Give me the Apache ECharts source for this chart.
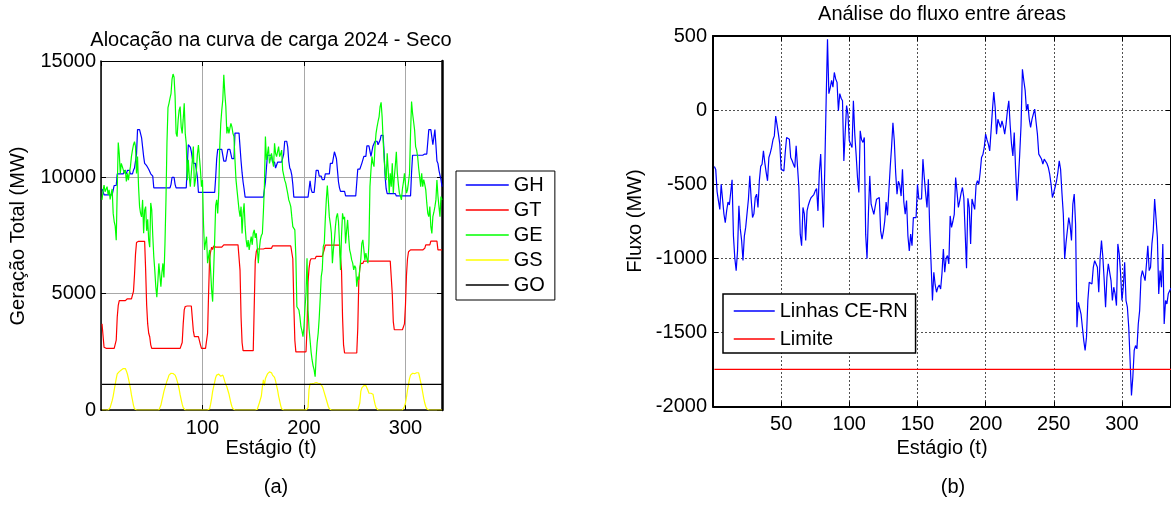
<!DOCTYPE html>
<html>
<head>
<meta charset="utf-8">
<script src="https://cdn.jsdelivr.net/npm/echarts@6/dist/echarts.min.js"></script>
<style>
html,body{margin:0;padding:0;background:#fff;}
#c{width:1171px;height:521px;}
</style>
</head>
<body>
<div id="c"></div>
<script>
// ---------------- DATA ----------------
const titleA = 'Alocação na curva de carga 2024 - Seco';
const titleB = 'Análise do fluxo entre áreas';
const xNameA = 'Estágio (t)';
const yNameA = 'Geração Total (MW)';
const xNameB = 'Estágio (t)';
const yNameB = 'Fluxo (MW)';
const seriesNamesA = ['GH', 'GT', 'GE', 'GS', 'GO'];
const seriesNamesB = ['Linhas CE-RN', 'Limite'];
const lastStage = 336;

// Hydro generation (GH), stages 1..336
const GH = [
9500,9400,9250,9250,9250,9250,9250,9250,9250,9250,
9250,9250,9650,9650,9650,10150,10150,10150,10150,10150,
10150,10150,10300,10300,10150,10300,10300,10300,10150,10150,
10150,10300,10400,10400,11000,12050,12050,12050,12050,11700,
11300,10900,10600,10600,10500,10500,10350,10350,10150,10150,
10050,9550,9550,9550,9550,9550,9550,9550,9550,9550,
9550,9550,9550,9550,9550,9550,9550,9550,9700,10000,
10000,10000,9700,9550,9550,9550,9550,9550,9550,9550,
9550,9550,9550,9550,10500,11400,11400,11300,11100,10800,
10600,10600,10600,10600,10000,9350,9350,9350,9350,9350,
9350,9350,9350,9350,9350,9350,9350,9350,9350,9350,
9350,9350,10000,10800,11200,11200,11200,11200,11200,11200,
10700,10700,10700,10700,11200,11200,11200,11200,10800,10800,
10800,11900,11900,11900,11900,11900,11300,10700,10200,9800,
9500,9150,9150,9150,9150,9150,9150,9150,9150,9150,
9150,9150,9150,9150,9150,9150,9150,9150,9150,9150,
9150,9800,10400,10950,10950,10950,10950,10950,10650,10650,
10650,10400,10400,10650,10650,10650,10650,10650,10650,11000,
11550,11550,11550,11300,10700,10400,10300,10100,9700,9150,
9150,9150,9150,9150,9150,9150,9150,9150,9150,9150,
9150,9150,9150,9150,9500,9850,9500,9350,9350,9350,
9800,10300,10300,10300,10050,10050,10050,9900,9900,9900,
10150,10150,10150,10150,10150,10600,10600,10600,10600,11100,
11100,10800,10300,9800,9550,9400,9400,9400,9400,9400,
9200,9200,9200,9200,9200,9200,9200,9200,9200,9200,
9200,9200,10350,10350,10350,10350,10600,10600,10900,10900,
10900,11350,11350,11350,11350,10900,10900,11350,11350,11550,
11550,11550,11400,11400,11600,11800,11800,11800,11000,10000,
9500,9300,9300,9300,9300,9300,9300,9300,9300,9300,
9200,9200,9200,9200,9200,9200,9200,9200,9200,9200,
9200,9200,9200,9200,9200,10200,10950,10950,10950,10950,
10950,10950,10950,10950,10950,10950,10950,10950,11000,11000,
11000,11000,12050,12050,12050,12050,11400,11400,12050,11400,
10700,10600,10300,10100,9900,9600
];

// Thermal generation (GT)
const GT = [
3700,3200,2700,2650,2650,2650,2650,2650,2650,2650,
2650,2650,2650,2650,3000,4000,4500,4700,4700,4700,
4700,4700,4700,4700,4780,4780,4780,4780,4780,4780,
4850,5100,5800,6700,7200,7250,7250,7250,7250,7250,
7250,7250,7250,6000,4500,3700,3300,3150,2800,2650,
2650,2650,2650,2650,2650,2650,2650,2650,2650,2650,
2650,2650,2650,2650,2650,2650,2650,2650,2650,2650,
2650,2650,2650,2650,2650,2650,2650,2650,2650,2900,
3700,4300,4450,4470,4470,4470,4470,4470,4470,4470,
3400,3150,3150,3150,3150,3150,3150,2800,2650,2650,
2650,2650,2650,2650,3300,5000,6500,6800,7000,6900,
7050,7000,7000,7000,7000,7000,7000,7000,7000,7000,
7100,7100,7100,7100,7100,7100,7100,7100,7100,7100,
7100,7100,7100,7100,7100,7100,6000,4000,2900,2550,
2550,2550,2550,2550,2550,2550,2550,2550,2550,2550,
4500,6400,6800,6920,6920,6920,6920,6920,6920,6920,
6950,6950,6950,6950,6950,6950,6950,6950,7050,7050,
7050,7050,7050,7050,7050,7050,7050,7050,7050,7050,
7050,7050,7050,7050,7050,7050,7050,7050,6500,4500,
3000,2500,2500,2500,2500,2500,2500,2500,2500,2500,
2500,2500,3500,5500,6100,6400,6500,6500,6500,6500,
6500,6600,6600,6600,6600,6600,6600,6600,6600,6900,
7090,7090,7090,7090,7090,7090,7090,7090,7090,7090,
7090,7090,7090,7090,7090,7090,6000,4000,2800,2450,
2450,2450,2450,2450,2450,2450,2450,2450,2450,2450,
2450,2450,3500,5500,6100,6300,6300,6300,6400,6400,
6400,6400,6400,6400,6400,6400,6400,6400,6400,6400,
6400,6400,6400,6400,6400,6400,6400,6400,6400,6400,
6400,6400,6400,6400,6400,6400,5000,3800,3450,3450,
3450,3450,3450,3450,3450,3450,3450,3500,3700,4500,
5800,6500,6800,6880,6880,6880,6880,6880,6880,6880,
6880,6880,6880,6880,6880,6880,6880,6880,6950,7100,
7100,7100,7100,7100,7260,7260,7260,7260,7260,7260,
7260,6880,6880,6880,6880,6880
];

// Wind generation (GE)
const GE = [
9030,9400,9670,9380,9450,9600,9250,9460,9050,9300,
9500,8450,8100,7900,7300,9500,11500,11000,10170,10600,
10460,10530,10170,10320,9820,10170,9880,10200,10460,10900,
11170,11400,11530,11320,10170,10890,9600,8740,8450,8300,
9030,7600,8590,8740,7700,8200,7300,7000,8900,8600,
7500,6600,6000,5300,4850,5500,6300,5800,5300,5900,
6300,5700,7100,9000,11500,13000,13180,13400,13600,14220,
14440,14300,13480,11890,11750,12460,12890,13040,12170,11890,
12500,13180,11890,11460,9880,10750,10020,9600,10200,10750,
11320,9600,9880,10300,11000,11390,11460,10310,9600,9880,
8000,6880,7200,7450,6310,6600,6880,6000,5160,4660,
6000,7310,8800,9030,8450,9320,11320,12300,12890,13330,
14410,13620,13040,11890,12170,11890,12100,12320,12170,11890,
11750,10750,9900,9460,9030,8600,8310,8740,7590,8450,
8880,7880,7310,7000,7300,6880,7200,7450,7100,7600,
7740,7400,7600,7000,6310,6900,7310,7500,7590,8500,
9600,11750,10750,11000,11320,10600,10800,11030,10700,10460,
11460,11030,10890,11100,11320,10890,11000,11170,10310,10100,
9880,9750,9670,9300,9030,8900,8740,8300,7880,7800,
7740,6600,4440,4430,4300,4000,3580,3400,3150,3580,
4400,5000,6520,4300,3500,3010,2500,2150,1900,1720,
1430,2290,2900,3300,3940,4800,5730,6020,7020,7160,
8200,9030,9650,9000,8300,8000,7600,6310,6900,7310,
7900,8300,8450,8100,7200,6020,7500,8450,8200,8300,
7160,7700,8170,7450,6880,6700,6450,6310,6020,6200,
6100,5300,5730,5600,5590,6500,7160,7310,6900,6450,
6740,6500,6310,7160,9600,10310,10890,10600,10460,11320,
11890,12170,12400,12600,13040,13220,12600,11600,10750,10170,
9880,11030,10310,9320,10170,9600,10600,9320,10000,10500,
11100,10170,9700,9320,9200,9030,9500,9800,10170,9700,
9320,9460,9800,10170,11890,13260,12750,12400,12030,11320,
11170,10890,10400,10020,9600,10170,9600,9900,9700,9460,
8900,8450,8310,8740,7880,7590,8310,8500,8740,9030,
9880,9200,8740,8310,9170,9030
];

// Solar generation (GS)
const GS = [
0,0,0,0,0,0,0,0,100,250,
400,600,850,1100,1350,1550,1600,1650,1680,1720,
1750,1780,1820,1780,1680,1550,1360,1150,930,650,
430,200,50,0,0,0,0,0,0,0,
0,0,0,0,0,0,0,0,0,0,
0,0,0,0,0,0,0,50,200,400,
600,800,950,1100,1250,1360,1500,1560,1580,1580,
1570,1540,1500,1400,1250,1100,900,650,450,250,
100,20,0,0,0,0,0,0,0,0,
0,0,0,0,0,0,0,0,0,0,
0,0,0,0,0,0,50,250,500,800,
1000,1200,1400,1500,1550,1540,1480,1450,1500,1500,
1380,1220,1100,1000,850,700,500,300,150,50,
0,0,0,0,0,0,0,0,0,0,
0,0,0,0,0,0,0,0,0,0,
0,0,0,30,100,300,450,600,1000,1300,
1050,1350,1400,1550,1600,1640,1650,1600,1500,1450,
1400,1250,1050,850,600,400,200,50,0,0,
0,0,0,0,0,0,0,0,0,0,
0,0,0,0,0,0,0,0,0,0,
0,0,0,100,900,1120,1140,1130,1150,1150,
1170,1180,1160,1150,1140,1130,1100,1020,900,750,
600,450,300,150,50,0,0,0,0,0,
0,0,0,0,0,0,0,0,0,0,
0,0,0,0,0,0,0,0,0,0,
0,0,0,0,300,800,950,1000,1050,1080,
1050,950,850,720,720,720,700,680,450,250,
100,20,0,0,0,0,0,0,0,0,
0,0,0,0,0,0,0,0,0,0,
0,0,0,0,0,0,0,50,150,300,
550,850,1100,1350,1500,1550,1580,1560,1560,1560,
1600,1640,1600,1400,1200,1000,750,500,300,150,
50,0,0,0,0,0,0,0,0,0,
0,0,0,0,0,0
];

// Other generation (GO): constant level
const GO_level = 1100;

// Flow on lines CE-RN
const FLUXO = [
-380,-400,-550,-612,-670,-500,-510,-700,-760,-680,
-620,-640,-650,-470,-850,-1000,-1083,-950,-646,-800,
-880,-1015,-850,-790,-780,-600,-444,-600,-725,-700,
-590,-567,-657,-477,-380,-365,-275,-354,-420,-477,
-320,-290,-252,-200,-174,-40,-100,-162,-230,-400,
-405,-410,-286,-185,-190,-196,-320,-340,-365,-387,
-241,-252,-522,-837,-915,-657,-700,-880,-680,-640,
-612,-590,-600,-570,-545,-530,-680,-420,-297,-286,
-792,-400,62,478,111,150,200,155,254,210,
187,-4,111,80,63,-343,-150,30,-27,-207,
-230,-252,63,-162,-300,-455,-556,-140,-200,-218,
-185,-837,-1002,-703,-444,-635,-670,-703,-650,-601,
-590,-590,-815,-870,-820,-748,-620,-710,-720,-387,
-250,-85,-207,-421,-567,-480,-505,-580,-400,-620,
-703,-610,-850,-950,-837,-915,-725,-725,-725,-500,
-600,-610,-600,-331,-455,-560,-657,-466,-800,-1038,
-1285,-1094,-1180,-1229,-1195,-1180,-1207,-1100,-937,-1094,
-1000,-982,-1038,-714,-792,-750,-703,-455,-550,-657,
-612,-560,-522,-590,-600,-1067,-595,-660,-903,-600,
-600,-670,-505,-477,-500,-420,-320,-300,-252,-162,
-200,-230,-275,-140,0,122,18,-162,-62,-90,
-117,-73,-110,-162,-95,-4,63,-100,-230,-309,
-151,-400,-612,-477,-300,-100,275,200,133,-4,
40,-60,-117,-62,-27,7,-80,-162,-297,-309,
-330,-365,-331,-343,-360,-387,-432,-500,-590,-556,
-545,-480,-421,-343,-400,-560,-703,-1004,-893,-900,
-725,-780,-880,-634,-567,-770,-1465,-1297,-1308,-1376,
-1386,-1555,-1622,-1532,-1285,-1162,-1162,-1173,-1061,-1016,
-1038,-1060,-1229,-1000,-880,-992,-1150,-1330,-1128,-1038,
-1049,-1150,-1285,-1195,-1240,-1319,-903,-970,-1100,-1285,
-1195,-1027,-1285,-1330,-1465,-1690,-1925,-1802,-1622,-1589,
-1611,-1443,-1353,-1128,-1083,-1083,-1151,-1038,-915,-1083,
-1060,-903,-813,-600,-729,-858,-1240,-1083,-1195,-903,
-1443,-1285,-1308,-1240,-1240,-1200
];

const LIMITE = -1750;

// Axis ticks
const xTickStepA = 100, yTickStepA = 5000, yMinA = 0, yMaxA = 15000;
const xTickStepB = 50, yTickStepB = 500, yMinB = -2000, yMaxB = 500;

// --------------- CHART ----------------
const FONT = "'Liberation Sans', Arial, Helvetica, sans-serif";
const pairs = arr => arr.map((v, i) => [i + 1, v]);
const flat = (lvl) => [[1, lvl], [lastStage, lvl]];

const chart = echarts.init(document.getElementById('c'), null, {renderer: 'canvas'});

function xAxisBase(grid, step, pos, showLbl, split) {
  return {
    type: 'value', gridIndex: grid, position: pos, min: 0, max: lastStage, interval: step,
    axisLine: {show: true, onZero: false, lineStyle: {color: '#000', width: grid === 0 ? (pos === 'top' ? 1 : 1.5) : 2}},
    axisTick: {show: true, inside: true, length: 5, lineStyle: {color: '#000', width: 1}},
    axisLabel: {show: showLbl, color: '#000', fontSize: 20, fontFamily: FONT, margin: 8,
      showMinLabel: false, showMaxLabel: false,
      formatter: v => (v !== 0 && v % step === 0) ? String(v) : ''},
    splitLine: {show: split, lineStyle: grid === 0 ? {color: '#a8a8a8', width: 1, type: 'solid'} : {color: '#505050', width: 1, type: [2, 2]}}
  };
}
function yAxisBase(grid, mn, mx, step, pos, showLbl, split) {
  return {
    type: 'value', gridIndex: grid, position: pos, min: mn, max: mx, interval: step,
    axisLine: {show: true, onZero: false, lineStyle: {color: '#000', width: grid === 0 ? (pos === 'right' ? 2.5 : 1.5) : 2}},
    axisTick: {show: true, inside: true, length: 5, lineStyle: {color: '#000', width: 1}},
    axisLabel: {show: showLbl, color: '#000', fontSize: 20, fontFamily: FONT, margin: grid === 0 ? 5 : 6,
      formatter: v => String(v)},
    splitLine: {show: split, lineStyle: grid === 0 ? {color: '#a8a8a8', width: 1, type: 'solid'} : {color: '#505050', width: 1, type: [2, 2]}}
  };
}

const colorsA = ['#0000ff', '#ff0000', '#00ff00', '#ffff00', '#000000'];
const dataA = [pairs(GH), pairs(GT), pairs(GE), pairs(GS), flat(GO_level)];

const series = [];
seriesNamesA.forEach((n, i) => {
  series.push({
    name: n, type: 'line', xAxisIndex: 0, yAxisIndex: 0, data: dataA[i],
    symbol: 'none', lineStyle: {color: colorsA[i], width: 1.2}, itemStyle: {color: colorsA[i]},
    silent: true, animation: false
  });
});
series.push({
  name: seriesNamesB[0], type: 'line', xAxisIndex: 2, yAxisIndex: 2, data: pairs(FLUXO),
  symbol: 'none', lineStyle: {color: '#0000ff', width: 1.2}, itemStyle: {color: '#0000ff'}, silent: true
});
series.push({
  name: seriesNamesB[1], type: 'line', xAxisIndex: 2, yAxisIndex: 2, data: flat(LIMITE),
  symbol: 'none', lineStyle: {color: '#ff0000', width: 1.2}, itemStyle: {color: '#ff0000'}, silent: true
});

function txt(text, x, y, opts) {
  opts = opts || {};
  return {
    type: 'text', x: x, y: y, rotation: opts.rot || 0, silent: true, z: 100,
    style: {text: text, x: 0, y: 0, fill: '#000', fontSize: opts.size || 20, fontFamily: FONT,
      textAlign: 'center', textVerticalAlign: 'middle'}
  };
}

const option = {
  backgroundColor: '#ffffff',
  animation: false,
  grid: [
    {left: 101, top: 61, width: 341, height: 349, containLabel: false},
    {left: 713, top: 36, width: 460, height: 370.5, containLabel: false}
  ],
  xAxis: [
    xAxisBase(0, xTickStepA, 'bottom', true, true),
    xAxisBase(0, xTickStepA, 'top', false, false),
    xAxisBase(1, xTickStepB, 'bottom', true, true),
    xAxisBase(1, xTickStepB, 'top', false, false)
  ],
  yAxis: [
    yAxisBase(0, yMinA, yMaxA, yTickStepA, 'left', true, true),
    yAxisBase(0, yMinA, yMaxA, yTickStepA, 'right', false, false),
    yAxisBase(1, yMinB, yMaxB, yTickStepB, 'left', true, true),
    yAxisBase(1, yMinB, yMaxB, yTickStepB, 'right', false, false)
  ],
  legend: [
    {
      data: seriesNamesA, orient: 'vertical', left: 456, top: 171,
      padding: [4, 10, 5, 9], itemWidth: 43, itemHeight: 20, itemGap: 5,
      borderColor: '#000', borderWidth: 1, borderRadius: 0, backgroundColor: '#fff',
      itemStyle: {opacity: 0},
      lineStyle: {width: 1.5},
      textStyle: {color: '#000', fontSize: 20, fontFamily: FONT},
      selectedMode: false
    },
    {
      data: seriesNamesB, orient: 'vertical', left: 723, top: 294,
      padding: [7, 8, 4, 10], itemWidth: 41, itemHeight: 20, itemGap: 8,
      borderColor: '#000', borderWidth: 1.5, borderRadius: 0, backgroundColor: '#fff',
      itemStyle: {opacity: 0},
      lineStyle: {width: 1.5},
      textStyle: {color: '#000', fontSize: 20, fontFamily: FONT},
      selectedMode: false
    }
  ],
  graphic: [
    txt(titleA, 271, 40),
    txt(titleB, 942, 14),
    txt(xNameA, 271, 448),
    txt(xNameB, 942, 448),
    txt(yNameA, 18, 236, {rot: Math.PI / 2}),
    txt(yNameB, 635, 221, {rot: Math.PI / 2}),
    txt('(a)', 276, 487),
    txt('(b)', 953, 487)
  ],
  series: series
};
chart.setOption(option);
</script>
</body>
</html>
